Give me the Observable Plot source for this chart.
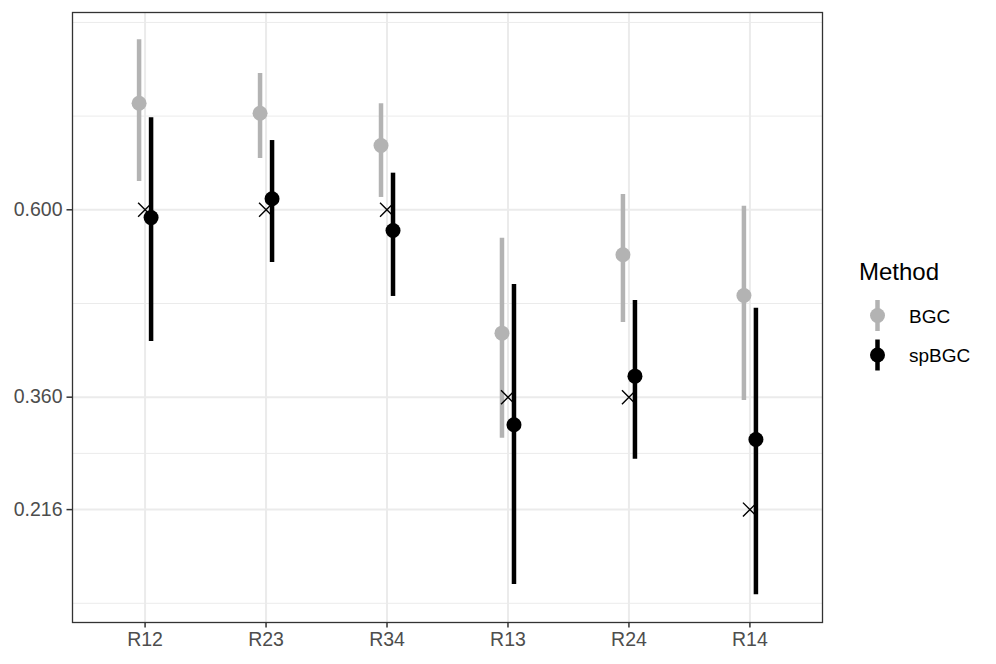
<!DOCTYPE html>
<html>
<head>
<meta charset="utf-8">
<script src="https://cdn.jsdelivr.net/npm/d3@7"></script>
<script src="https://cdn.jsdelivr.net/npm/@observablehq/plot@0.6"></script>
<style>
  html, body { margin: 0; padding: 0; background: #fff; }
  #wrap { position: relative; width: 996px; height: 664px; font-family: "Liberation Sans", Arial, Helvetica, sans-serif; }
  #legend { position: absolute; left: 830px; top: 250px; }
</style>
</head>
<body>
<div id="wrap"></div>
<script>
// ---- data ----
const categories = ["R12", "R23", "R34", "R13", "R24", "R14"];
const methods = ["BGC", "spBGC"];
const bgcEst = [0.7365, 0.7237, 0.6824, 0.4420, 0.5424, 0.4902];
const bgcLow = [0.6363, 0.6657, 0.6158, 0.3075, 0.4557, 0.3558];
const bgcHigh = [0.8177, 0.7746, 0.7358, 0.5636, 0.6196, 0.6046];
const spEst = [0.5900, 0.6141, 0.5735, 0.3246, 0.3869, 0.3058];
const spLow = [0.4313, 0.5325, 0.4890, 0.1201, 0.2806, 0.1069];
const spHigh = [0.7178, 0.6887, 0.6469, 0.5043, 0.4838, 0.4740];
const trueValue = [0.6, 0.6, 0.6, 0.36, 0.36, 0.216];
const yTicks = [0.216, 0.36, 0.6];
const yMinor = [0.096, 0.288, 0.48, 0.72, 0.84];
const yDomain = [0.0714, 0.8527];

const colors = {BGC: "#b3b3b3", spBGC: "#000000"};

const rows = [];
categories.forEach((c, i) => {
  rows.push({cat: c, method: "BGC", est: bgcEst[i], lo: bgcLow[i], hi: bgcHigh[i]});
  rows.push({cat: c, method: "spBGC", est: spEst[i], lo: spLow[i], hi: spHigh[i]});
});
const truth = categories.map((c, i) => ({cat: c, value: trueValue[i]}));
const bgc = rows.filter(d => d.method === "BGC");
const sp = rows.filter(d => d.method === "spBGC");

const chart = Plot.plot({
  width: 996,
  height: 664,
  marginLeft: 72,
  marginRight: 174,
  marginTop: 12,
  marginBottom: 42,
  style: {fontFamily: "'Liberation Sans', Arial, Helvetica, sans-serif", fontSize: "19.5px", background: "#fff"},
  x: {type: "point", domain: categories, padding: 0.6, round: false, label: null},
  y: {domain: yDomain, label: null},
  marks: [
    Plot.ruleY(yMinor, {stroke: "#ebebeb", strokeWidth: 1}),
    Plot.ruleY(yTicks, {stroke: "#ebebeb", strokeWidth: 2}),
    Plot.ruleX(categories, {stroke: "#ebebeb", strokeWidth: 2}),
    Plot.ruleX(bgc, {x: "cat", y1: "lo", y2: "hi", stroke: colors.BGC, strokeWidth: 4.5, dx: -6}),
    Plot.dot(bgc, {x: "cat", y: "est", r: 7.5, fill: colors.BGC, dx: -6}),
    Plot.ruleX(sp, {x: "cat", y1: "lo", y2: "hi", stroke: colors.spBGC, strokeWidth: 4.5, dx: 6}),
    Plot.dot(sp, {x: "cat", y: "est", r: 7.5, fill: colors.spBGC, dx: 6}),
    Plot.dot(truth, {x: "cat", y: "value", symbol: "times", r: 6.4, stroke: "#000", strokeWidth: 1.4}),
    Plot.frame({stroke: "#333333", strokeWidth: 1.3}),
    Plot.axisX({tickSize: 5.5, tickPadding: 4.5, stroke: "#333333", strokeWidth: 1.5, fill: "#4d4d4d", label: null}),
    Plot.axisY({ticks: yTicks, tickFormat: d3.format(".3f"), tickSize: 5.5, tickPadding: 4.5, stroke: "#333333", strokeWidth: 1.5, fill: "#4d4d4d", label: null})
  ]
});

const wrap = document.getElementById("wrap");
wrap.appendChild(chart);

// ---- legend ----
const ns = "http://www.w3.org/2000/svg";
const leg = document.createElementNS(ns, "svg");
leg.setAttribute("id", "legend");
leg.setAttribute("width", 160);
leg.setAttribute("height", 130);
leg.style.fontFamily = "'Liberation Sans', Arial, Helvetica, sans-serif";
const title = document.createElementNS(ns, "text");
title.setAttribute("x", 29);
title.setAttribute("y", 30);
title.setAttribute("font-size", "24px");
title.setAttribute("fill", "#000");
title.textContent = "Method";
leg.appendChild(title);
methods.forEach((m, i) => {
  const cy = 65.5 + i * 39.5;
  const line = document.createElementNS(ns, "line");
  line.setAttribute("x1", 47.5); line.setAttribute("x2", 47.5);
  line.setAttribute("y1", cy - 15.5); line.setAttribute("y2", cy + 15.5);
  line.setAttribute("stroke", colors[m]); line.setAttribute("stroke-width", 4.5);
  leg.appendChild(line);
  const c = document.createElementNS(ns, "circle");
  c.setAttribute("cx", 47.5); c.setAttribute("cy", cy); c.setAttribute("r", 7.5);
  c.setAttribute("fill", colors[m]);
  leg.appendChild(c);
  const t = document.createElementNS(ns, "text");
  t.setAttribute("x", 79); t.setAttribute("y", cy + 7);
  t.setAttribute("font-size", "19px"); t.setAttribute("fill", "#000");
  t.textContent = m;
  leg.appendChild(t);
});
wrap.appendChild(leg);
</script>
</body>
</html>
